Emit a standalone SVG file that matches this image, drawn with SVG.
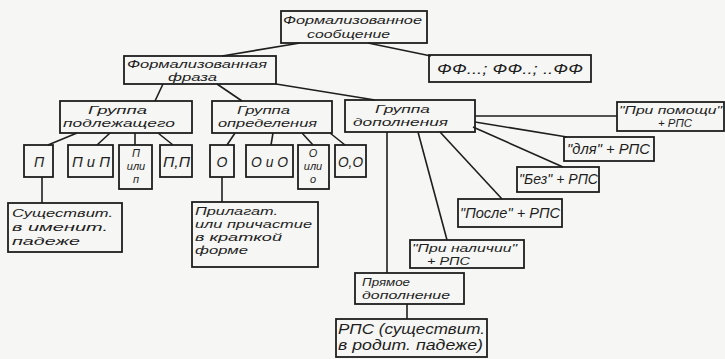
<svg xmlns="http://www.w3.org/2000/svg" width="725" height="359" viewBox="0 0 725 359">
<style>
.b{fill:none;stroke:#1e1e1e;stroke-width:1.8}
.c line{stroke:#1e1e1e;stroke-width:1.6}
text{font-family:"Liberation Sans","DejaVu Sans",sans-serif;font-style:italic;font-size:11.5px;fill:#1e1e1e}
.m{text-anchor:middle}
.s{font-size:11px}
.l{font-size:14px}
</style>
<rect width="725" height="359" fill="#f6f6f4"/>
<g id="connectors" class="c">
<line x1="300" y1="43" x2="222" y2="56"/>
<line x1="368" y1="43" x2="431" y2="56"/>
<line x1="163" y1="84" x2="155" y2="101"/>
<line x1="217" y1="84" x2="242" y2="101"/>
<line x1="276" y1="84" x2="375" y2="100"/>
<line x1="77" y1="133" x2="48" y2="145"/>
<line x1="110" y1="133" x2="97" y2="145"/>
<line x1="135" y1="133" x2="135" y2="145"/>
<line x1="158" y1="133" x2="173" y2="145"/>
<line x1="235" y1="133" x2="227" y2="145"/>
<line x1="273" y1="133" x2="271" y2="145"/>
<line x1="302" y1="133" x2="313" y2="145"/>
<line x1="330" y1="133" x2="345" y2="145"/>
<line x1="42" y1="177" x2="42" y2="203"/>
<line x1="222" y1="177" x2="222" y2="202"/>
<line x1="475" y1="116" x2="617" y2="116"/>
<line x1="475" y1="122" x2="567" y2="137"/>
<line x1="473" y1="127" x2="563" y2="167"/>
<line x1="440" y1="132" x2="502" y2="199"/>
<line x1="418" y1="132" x2="447" y2="240"/>
<line x1="387" y1="132" x2="387" y2="273"/>
<line x1="407" y1="304" x2="407" y2="319"/>
</g>
<g id="msg"><rect class="b" x="281" y="11" width="146" height="32"/>
<text x="283" y="24" textLength="139" lengthAdjust="spacingAndGlyphs">Формализованное</text>
<text x="307" y="38" textLength="83" lengthAdjust="spacingAndGlyphs">сообщение</text></g>
<g id="phrase"><rect class="b" x="124" y="56" width="152" height="28"/>
<text x="127" y="68" textLength="140" lengthAdjust="spacingAndGlyphs">Формализованная</text>
<text x="168" y="81" textLength="49" lengthAdjust="spacingAndGlyphs">фраза</text></g>
<g id="ff"><rect class="b" x="429" y="55" width="162" height="27"/>
<text class="l" x="437" y="74" textLength="146" lengthAdjust="spacingAndGlyphs">ФФ...; ФФ..; ..ФФ</text></g>
<g id="subj"><rect class="b" x="60" y="101" width="132" height="32"/>
<text x="88" y="114" textLength="59" lengthAdjust="spacingAndGlyphs">Группа</text>
<text x="63" y="127" textLength="112" lengthAdjust="spacingAndGlyphs">подлежащего</text></g>
<g id="def"><rect class="b" x="212" y="101" width="120" height="32"/>
<text x="237" y="114" textLength="53" lengthAdjust="spacingAndGlyphs">Группа</text>
<text x="218" y="127" textLength="99" lengthAdjust="spacingAndGlyphs">определения</text></g>
<g id="dop"><rect class="b" x="345" y="100" width="130" height="32"/>
<text x="375" y="113" textLength="55" lengthAdjust="spacingAndGlyphs">Группа</text>
<text x="353" y="126" textLength="95" lengthAdjust="spacingAndGlyphs">дополнения</text></g>
<g id="p1"><rect class="b" x="24" y="145" width="29" height="32"/><text class="m l" x="39" y="167">П</text></g>
<g id="p2"><rect class="b" x="68" y="145" width="45" height="32"/><text class="l" x="72" y="167" textLength="38" lengthAdjust="spacingAndGlyphs">П и П</text></g>
<g id="p3"><rect class="b" x="119" y="145" width="33" height="44"/>
<text class="m s" x="136" y="157">П</text><text class="m s" x="136" y="170">или</text><text class="m s" x="136" y="183">п</text></g>
<g id="p4"><rect class="b" x="160" y="145" width="32" height="32"/><text class="l" x="163" y="167" textLength="27" lengthAdjust="spacingAndGlyphs">П,П</text></g>
<g id="o1"><rect class="b" x="210" y="145" width="24" height="32"/><text class="m l" x="222" y="167">О</text></g>
<g id="o2"><rect class="b" x="246" y="145" width="47" height="32"/><text class="l" x="251" y="167" textLength="37" lengthAdjust="spacingAndGlyphs">О и О</text></g>
<g id="o3"><rect class="b" x="298" y="145" width="31" height="44"/>
<text class="m s" x="313" y="157">О</text><text class="m s" x="313" y="170">или</text><text class="m s" x="313" y="183">о</text></g>
<g id="o4"><rect class="b" x="335" y="145" width="31" height="32"/><text class="l" x="338" y="167" textLength="25" lengthAdjust="spacingAndGlyphs">О,О</text></g>
<g id="noun"><rect class="b" x="8" y="203" width="114" height="49"/>
<text x="12" y="217" textLength="101" lengthAdjust="spacingAndGlyphs">Существит.</text>
<text x="12" y="231" textLength="96" lengthAdjust="spacingAndGlyphs">в именит.</text>
<text x="12" y="245" textLength="68" lengthAdjust="spacingAndGlyphs">падеже</text></g>
<g id="adj"><rect class="b" x="192" y="202" width="126" height="65"/>
<text x="195" y="215" textLength="83" lengthAdjust="spacingAndGlyphs">Прилагат.</text>
<text x="195" y="228" textLength="117" lengthAdjust="spacingAndGlyphs">или причастие</text>
<text x="195" y="241" textLength="87" lengthAdjust="spacingAndGlyphs">в краткой</text>
<text x="195" y="254" textLength="53" lengthAdjust="spacingAndGlyphs">форме</text></g>
<g id="pomoshchi"><rect class="b" x="617" y="102" width="107" height="29"/>
<text x="619" y="114" textLength="103" lengthAdjust="spacingAndGlyphs">"При помощи"</text>
<text x="658" y="127" textLength="34" lengthAdjust="spacingAndGlyphs">+ РПС</text></g>
<g id="dlya"><rect class="b" x="564" y="137" width="90" height="24"/>
<text class="l" x="567" y="154" textLength="83" lengthAdjust="spacingAndGlyphs">"для" + РПС</text></g>
<g id="bez"><rect class="b" x="517" y="167" width="82" height="25"/>
<text class="l" x="519" y="184" textLength="79" lengthAdjust="spacingAndGlyphs">"Без" + РПС</text></g>
<g id="posle"><rect class="b" x="458" y="199" width="104" height="28"/>
<text class="l" x="460" y="218" textLength="100" lengthAdjust="spacingAndGlyphs">"После" + РПС</text></g>
<g id="nalichii"><rect class="b" x="410" y="240" width="114" height="28"/>
<text class="s" x="412" y="252" textLength="105" lengthAdjust="spacingAndGlyphs">"При наличии"</text>
<text class="s" x="427" y="265" textLength="43" lengthAdjust="spacingAndGlyphs">+ РПС</text></g>
<g id="pryamoe"><rect class="b" x="355" y="273" width="109" height="31"/>
<text x="362" y="286" textLength="48" lengthAdjust="spacingAndGlyphs">Прямое</text>
<text x="362" y="299" textLength="88" lengthAdjust="spacingAndGlyphs">дополнение</text></g>
<g id="rps"><rect class="b" x="336" y="319" width="151" height="38"/>
<text class="l" x="338" y="334" textLength="147" lengthAdjust="spacingAndGlyphs">РПС (существит.</text>
<text class="l" x="338" y="350" textLength="145" lengthAdjust="spacingAndGlyphs">в родит. падеже)</text></g>
</svg>
